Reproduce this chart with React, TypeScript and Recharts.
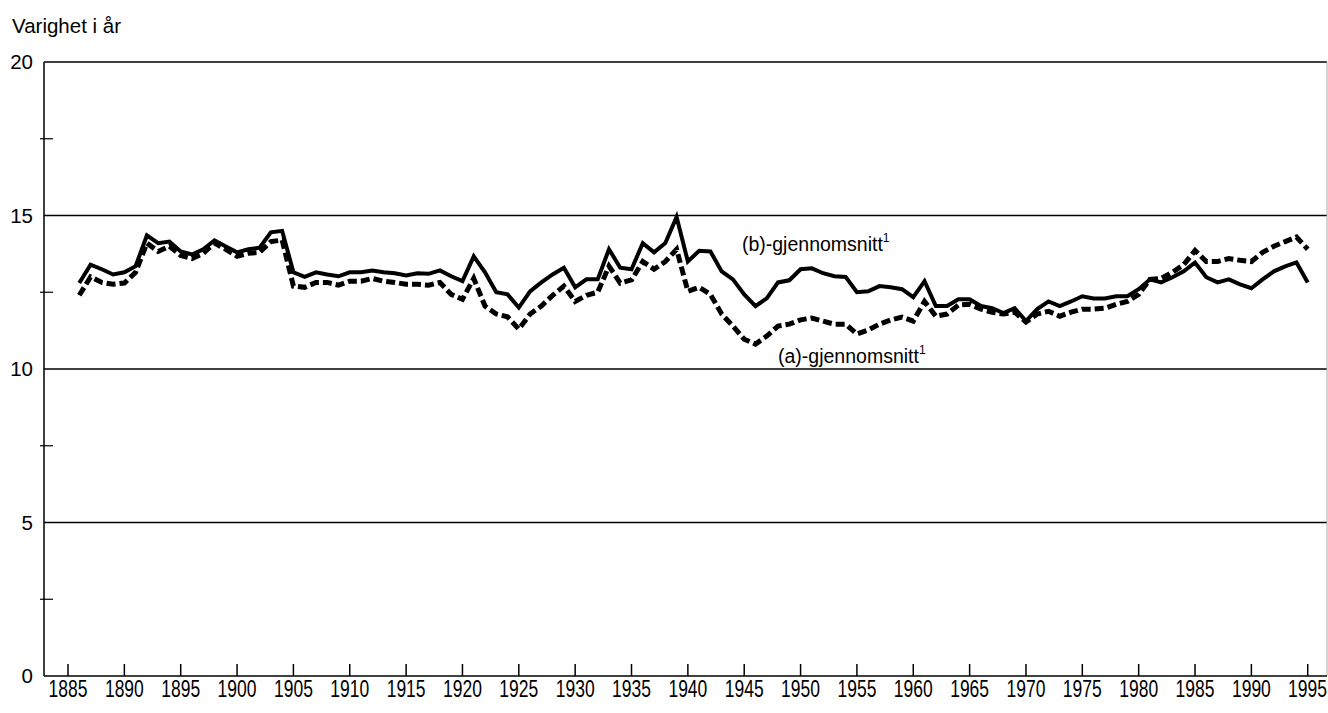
import React from 'react';
import { LineChart, Line, XAxis, YAxis, ReferenceLine, ReferenceDot } from 'recharts';

const years: number[] = [];
for (let y = 1886; y <= 1995; y++) years.push(y);

const seriesB = [
  12.8, 13.4, 13.25, 13.08, 13.15, 13.35, 14.35, 14.1, 14.15, 13.83,
  13.73, 13.9, 14.19, 13.99, 13.8, 13.9, 13.95, 14.45, 14.5, 13.15,
  13.0, 13.15, 13.08, 13.02, 13.15, 13.15, 13.21, 13.15, 13.12, 13.05,
  13.12, 13.1, 13.21, 13.02, 12.86, 13.67, 13.15, 12.5, 12.43, 12.0,
  12.53, 12.82, 13.08, 13.3, 12.66, 12.92, 12.92, 13.9, 13.3, 13.25,
  14.1, 13.8, 14.1, 14.95, 13.5, 13.85, 13.83, 13.18, 12.92, 12.43,
  12.05, 12.3, 12.82, 12.89, 13.25, 13.28, 13.12, 13.02, 13.0, 12.5,
  12.53, 12.7, 12.66, 12.6, 12.34, 12.86, 12.05, 12.05, 12.27, 12.27,
  12.05, 11.98, 11.82, 11.98, 11.56, 11.95, 12.2, 12.05, 12.2, 12.37,
  12.3, 12.3, 12.37, 12.37, 12.6, 12.92, 12.82, 12.99, 13.18, 13.47,
  12.99, 12.82, 12.92, 12.76, 12.63, 12.92, 13.18, 13.34, 13.47, 12.82,
];

const seriesA = [
  12.4, 13.0, 12.82, 12.76, 12.8, 13.15, 14.1, 13.83, 14.0, 13.7,
  13.6, 13.77, 14.1, 13.9, 13.67, 13.77, 13.8, 14.15, 14.2, 12.7,
  12.66, 12.82, 12.82, 12.73, 12.86, 12.86, 12.95, 12.86, 12.82, 12.76,
  12.76, 12.73, 12.82, 12.43, 12.27, 12.95, 12.05, 11.79, 11.7, 11.3,
  11.79, 12.05, 12.4, 12.7, 12.2, 12.4, 12.5, 13.35, 12.8, 12.9,
  13.5, 13.25, 13.5, 13.9, 12.53, 12.66, 12.43, 11.79, 11.4, 10.97,
  10.81, 11.07, 11.4, 11.46, 11.6, 11.66, 11.56, 11.46, 11.46, 11.14,
  11.27, 11.46, 11.6, 11.69, 11.56, 12.2, 11.72, 11.79, 12.08, 12.11,
  11.95, 11.85, 11.79, 11.85, 11.53, 11.79, 11.88, 11.72, 11.85, 11.95,
  11.95, 11.98, 12.11, 12.2, 12.43, 12.92, 12.95, 13.15, 13.4, 13.86,
  13.5, 13.5, 13.6, 13.54, 13.5, 13.8, 14.0, 14.15, 14.3, 13.9,
];

const xTicks = [1885, 1890, 1895, 1900, 1905, 1910, 1915, 1920, 1925, 1930, 1935, 1940, 1945, 1950, 1955, 1960, 1965, 1970, 1975, 1980, 1985, 1990, 1995];
const yTicks = [0, 2.5, 5, 7.5, 10, 12.5, 15, 17.5, 20];
const gridValues = [5, 10, 15, 20];
const X_MIN = 1882.87;
const X_MAX = 1996.71;

const data = years.map((year, i) => ({ year, b: seriesB[i], a: seriesA[i] }));

const FONT = '"Liberation Sans", Arial, Helvetica, sans-serif';
const CHART_W = 1328;

const XTick = (props: any) => {
  const { x, y, payload } = props;
  const half = 19.5;
  const tx = Math.min(x, CHART_W - 1 - half);
  return (
    <g>
      <line x1={x} x2={x} y1={y - 12} y2={y} stroke="#000" strokeWidth={1.5} />
      <text
        x={0}
        y={0}
        transform={`translate(${tx},${y + 21}) scale(1,1.32)`}
        textAnchor="middle"
        fontFamily={FONT}
        fontSize={17.5}
        fill="#000"
      >
        {payload.value}
      </text>
    </g>
  );
};

const YTick = (props: any) => {
  const { x, y, payload } = props;
  const v = payload.value;
  if (v % 5 !== 0) {
    return <line x1={x - 4} x2={x + 9} y1={y} y2={y} stroke="#000" strokeWidth={1.2} />;
  }
  return (
    <text x={x - 11} y={y + 7} textAnchor="end" fontFamily={FONT} fontSize={20.5} fill="#000">
      {v}
    </text>
  );
};

const makeLabel = (txt: string) => (p: any) => (
  <text x={p.cx} y={p.cy} fontFamily={FONT} fontSize={19.5} fill="#000">
    {txt}
    <tspan fontSize={12} dy={-9}>1</tspan>
  </text>
);

export default function App() {
  return (
    <div style={{ position: 'absolute', left: 0, top: 0, width: CHART_W, height: 713, background: '#fff' }}>
      <div style={{ position: 'absolute', left: 12, top: 14, fontFamily: FONT, fontSize: 20.5, color: '#000', lineHeight: '24px' }}>
        Varighet i år
      </div>
      <LineChart width={CHART_W} height={713} data={data} margin={{ top: 62, right: 1, bottom: 0, left: 0 }}>
        <XAxis
          dataKey="year"
          type="number"
          domain={[X_MIN, X_MAX]}
          ticks={xTicks}
          interval={0}
          height={37}
          tickSize={0}
          tickMargin={0}
          tickLine={false}
          axisLine={{ stroke: '#000', strokeWidth: 1.5 }}
          tick={<XTick />}
          allowDataOverflow
        />
        <YAxis
          type="number"
          domain={[0, 20]}
          ticks={yTicks}
          interval={0}
          width={44}
          tickSize={0}
          tickMargin={0}
          tickLine={false}
          axisLine={{ stroke: '#000', strokeWidth: 1.5 }}
          tick={<YTick />}
        />
        {gridValues.map((g) => (
          <ReferenceLine key={g} y={g} stroke="#000" strokeWidth={1.6} />
        ))}
        <ReferenceLine x={X_MAX} stroke="#aaa" strokeWidth={1} />
        <Line type="linear" dataKey="a" stroke="#000" strokeWidth={5} strokeDasharray="9 4" dot={false} isAnimationActive={false} />
        <Line type="linear" dataKey="b" stroke="#000" strokeWidth={4} dot={false} isAnimationActive={false} />
        <ReferenceDot x={1944.8} y={13.85} r={0} ifOverflow="visible" shape={makeLabel('(b)-gjennomsnitt')} />
        <ReferenceDot x={1948.0} y={10.2} r={0} ifOverflow="visible" shape={makeLabel('(a)-gjennomsnitt')} />
      </LineChart>
    </div>
  );
}
